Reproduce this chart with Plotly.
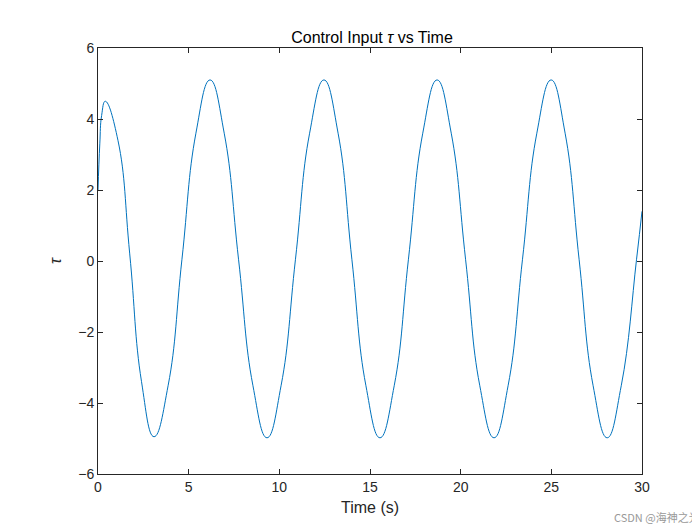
import plotly.graph_objects as go

# values
t = [0.0, 0.1, 0.2, 0.4, 1.1, 1.75, 2.4, 3.09, 3.87, 4.63, 5.4, 6.18, 6.96, 7.75,
     8.54, 9.32, 10.1, 10.89, 11.67, 12.46, 13.24, 14.0, 14.77, 15.55, 16.34,
     17.12, 17.91, 18.7, 19.48, 20.27, 21.05, 21.84, 22.62, 23.41, 24.2, 24.99,
     25.76, 26.53, 27.3, 28.08, 28.86, 29.7, 30.0]
tau = [2.0, 3.3, 4.1, 4.5, 3.4, 0.2, -3.4, -4.95, -3.5, 0.05, 3.6, 5.1, 3.6, 0.05,
       -3.5, -4.98, -3.5, 0.05, 3.6, 5.1, 3.6, 0.05, -3.5, -4.98, -3.5,
       0.05, 3.6, 5.1, 3.6, 0.05, -3.5, -4.98, -3.5, 0.05, 3.6, 5.1,
       3.6, 0.05, -3.5, -4.98, -3.5, 0.05, 1.4]

fig = go.Figure(go.Scatter(x=t, y=tau, mode='lines',
                           line=dict(color='#0072BD', width=1, shape='spline', smoothing=1.3),
                           showlegend=False))

ax = dict(showline=True, linecolor='#262626', linewidth=1, mirror='ticks',
          ticks='inside', ticklen=5, tickcolor='#262626', showgrid=False,
          zeroline=False, tickfont=dict(size=14, color='#262626'))

fig.update_layout(
    width=700, height=525,
    margin=dict(l=90, r=66, t=40, b=59, autoexpand=False),
    paper_bgcolor='white', plot_bgcolor='white',
    font=dict(family='Liberation Sans, Arial', color='#262626'),
    title=dict(text='Control Input <i>τ</i> vs Time', x=0.52, y=0.955,
               xanchor='center', font=dict(size=16, color='black')),
    xaxis=dict(ax, range=[0, 30], dtick=5,
               title=dict(text='Time (s)', font=dict(size=16), standoff=8)),
    yaxis=dict(ax, range=[-6, 6], dtick=2,
               title=dict(text='<i>τ</i>', font=dict(size=16), standoff=12)),
    annotations=[dict(text='CSDN @海神之光', xref='paper', yref='paper',
                      x=1.11, y=-0.125, xanchor='right', yanchor='bottom',
                      showarrow=False,
                      font=dict(size=11, color='#999999',
                                family='Noto Sans CJK SC'))]
)

fig.write_html("out.html")
